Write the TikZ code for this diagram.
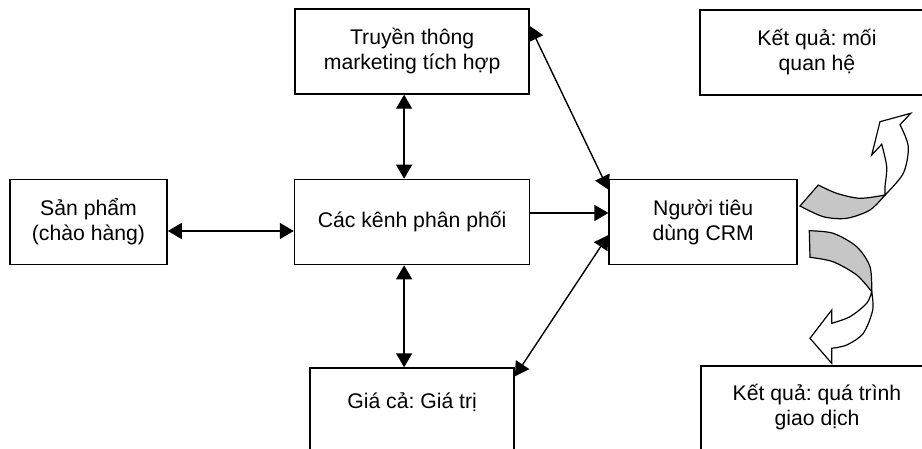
\documentclass[tikz,border=0pt]{standalone}
\usepackage{fontspec}
\setmainfont{Liberation Sans}
\usetikzlibrary{arrows.meta,positioning}
\frenchspacing

\begin{document}
\begin{tikzpicture}[
    x=1pt, y=-1pt,
    line width=1.4pt,
    box/.style={draw,line width=1.6pt,align=center,inner sep=0pt,
      minimum height=85pt,font=\fontsize{21.2}{25}\selectfont},
    both/.style={{Triangle[length=14pt,width=16pt]}-{Triangle[length=14pt,width=16pt]}},
    one/.style={-{Triangle[length=14pt,width=16pt]}},
    front/.style={draw,line width=1.2pt,fill=gray!45},
    back/.style={draw,line width=1.2pt,fill=white}]

  \useasboundingbox (0,0) rectangle (922,448);
  \clip (0,0) rectangle (922,448);

  \node[box,minimum width=157pt] (Product) at (88.5,222) {Sản phẩm\\(chào hàng)};
  \node[box,minimum width=235pt] (Channels) [right=126pt of Product] {Các kênh phân phối};
  \node[box,minimum width=234pt] (Comm) [above=84pt of Channels] {Truyền thông\\marketing tích hợp};
  \node[box,minimum width=188pt] (Customer) [right=78pt of Channels] {Người tiêu\\dùng CRM};
  \node[box,minimum width=204pt,text depth=60pt,inner ysep=25pt] (Price) [below=102pt of Channels] {Giá cả: Giá trị};
  \node[box,minimum width=234pt] (Relation) at (817,52.5) {Kết quả: mối\\quan hệ};
  \node[box,minimum width=232pt,text depth=60pt,inner ysep=18pt,anchor=north] (Trans) at (817,365) {Kết quả: quá trình\\giao dịch};

  \path[both]
    ([yshift=-9pt]Product.east) edge ([yshift=-9pt]Channels.west)
    ([xshift=-8pt]Comm.south) edge ([xshift=-8pt]Channels.north)
    ([xshift=-8pt]Channels.south) edge ([xshift=-8pt]Price.north)
    ([yshift=-18pt]Comm.north east) edge ([yshift=-11pt]Customer.north west)
    ([yshift=-9pt]Price.north east) edge ([yshift=-13pt]Customer.west);
  \path[one]
    ([yshift=9pt]Channels.east) edge ([yshift=9pt]Customer.west);

  \draw[back] (885,195) -- plot[smooth] coordinates {(885,195) (903.3,173.3) (908.3,146.7) (900,124.7)}
    -- (910.7,113.3) -- (880,121.7) -- (871.7,155) -- (881.7,144.3)
    -- plot[smooth] coordinates {(881.7,144.3) (886.7,166.7) (885,186.7) (885,195)} -- cycle;
  \draw[front] (800,206) -- (818.3,185)
    -- plot[smooth] coordinates {(818.3,185) (836.7,193.3) (860,198.3) (885,195)}
    -- plot[smooth] coordinates {(885,195) (870,210) (846.7,218.3) (823.3,216.7) (800,206)} -- cycle;

  \draw[front] (809.3,230.7)
    -- plot[smooth] coordinates {(809.3,230.7) (833.3,233.3) (856.7,246.7) (870,266.7) (871.7,291.7)}
    -- plot[smooth] coordinates {(871.7,291.7) (856.7,275) (833,261.7) (810,257.3)} -- cycle;
  \draw[back] (871.7,291.7)
    -- plot[smooth] coordinates {(871.7,291.7) (872.7,310) (863.3,333.3) (846.7,345) (831.7,348.3)}
    -- (831.7,363.3) -- (810,338.3) -- (831.7,310) -- (831.7,323.3)
    -- plot[smooth] coordinates {(831.7,323.3) (850,316.7) (866.7,303.3) (871.7,291.7)} -- cycle;
\end{tikzpicture}
\end{document}
